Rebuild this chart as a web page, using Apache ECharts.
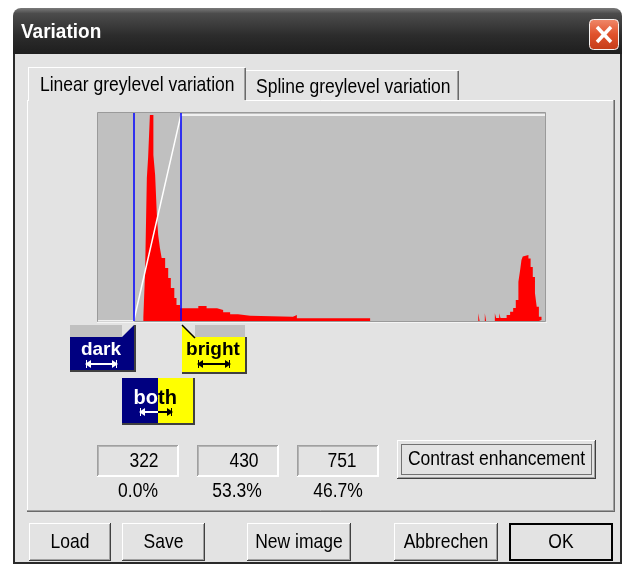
<!DOCTYPE html>
<html>
<head>
<meta charset="utf-8">
<title>Variation</title>
<script src="https://cdn.jsdelivr.net/npm/echarts@6/dist/echarts.min.js"></script>
<style>
  html, body { margin: 0; padding: 0; background: #fff; }
  #main { width: 627px; height: 574px; }
</style>
</head>
<body>
<div id="main"></div>
<script>
// histogram runs: grey level where a run starts, and its count (step plot)
const histGrey = [240, 344, 348, 352, 355, 359, 367, 371, 375, 378, 382, 386, 394, 401, 407, 415, 420, 428,
  470, 489, 513, 527, 543, 561, 589, 687, 696, 864,
  1112, 1115, 1127, 1130, 1150, 1153, 1160, 1163, 1177, 1185, 1192, 1198, 1204, 1208, 1211, 1214, 1218,
  1227, 1232, 1237, 1242, 1246, 1251, 1257, 1260];
const histCount = [0, 21, 237, 688, 790, 990, 798, 702, 510, 413, 351, 303, 255, 207, 159, 111, 77, 61,
  72, 61, 53, 42, 32, 25, 21, 29, 13, 0,
  37, 0, 37, 0, 37, 14, 37, 14, 29, 45, 63, 101, 189, 245, 293, 310, 317,
  300, 260, 212, 133, 69, 21, 5, 0];
// linear transfer curve (white line)
const curveGrey = [240, 322, 430, 1265];
const curveLevel = [0, 0, 990, 990];
const darkLevel = 322;
const brightLevel = 430;
const fieldValues = ["322", "430", "751"];
const fieldPercents = ["0.0%", "53.3%", "46.7%"];
const tabLabels = ["Linear greylevel variation", "Spline greylevel variation"];
const buttonLabels = ["Load", "Save", "New image", "Abbrechen", "OK"];

const FONT = '"Liberation Sans", Arial, sans-serif';
const BG = "#e3e3e3";

function zz(z, d) { return z === undefined ? d : z; }
function txt(x, y, text, o) {
  o = o || {};
  const al = o.align || "center";
  return {
    type: "text", x: x, y: y, z: zz(o.z, 6), scaleY: o.sy || 1.15,
    style: {
      text: text, fill: o.color || "#000",
      font: (o.bold ? "bold " : "") + (o.size || 17.5) + "px " + FONT,
      textAlign: al, align: al, textVerticalAlign: "middle", verticalAlign: "middle"
    }
  };
}
function ln(x1, y1, x2, y2, color, w, z) {
  return { type: "line", z: zz(z, 3), shape: { x1: x1, y1: y1, x2: x2, y2: y2 },
    style: { stroke: color, lineWidth: w || 1 } };
}
function box(x, y, w, h, fill, z) {
  return { type: "rect", z: zz(z, 2), shape: { x: x, y: y, width: w, height: h }, style: { fill: fill } };
}
function poly(points, fill, z) {
  return { type: "polygon", z: zz(z, 4), shape: { points: points }, style: { fill: fill } };
}
// raised windows button
function raised(x, y, w, h) {
  return [
    box(x, y, w, h, BG),
    ln(x, y + 0.5, x + w, y + 0.5, "#ffffff"),
    ln(x + 0.5, y, x + 0.5, y + h, "#ffffff"),
    ln(x, y + h - 0.5, x + w, y + h - 0.5, "#404040"),
    ln(x + w - 0.5, y, x + w - 0.5, y + h, "#404040"),
    ln(x + 1, y + h - 1.5, x + w - 1, y + h - 1.5, "#a0a0a0"),
    ln(x + w - 1.5, y + 1, x + w - 1.5, y + h - 1, "#a0a0a0")
  ];
}
// sunken field
function sunken(x, y, w, h) {
  return [
    box(x, y, w, h, BG),
    ln(x, y + 0.5, x + w, y + 0.5, "#a0a0a0"),
    ln(x + 0.5, y, x + 0.5, y + h, "#a0a0a0"),
    ln(x + 1, y + 1.5, x + w - 1, y + 1.5, "#b4b4b4"),
    ln(x + 1.5, y + 1, x + 1.5, y + h - 1, "#b4b4b4"),
    ln(x, y + h - 0.5, x + w, y + h - 0.5, "#ffffff"),
    ln(x + w - 0.5, y, x + w - 0.5, y + h, "#ffffff"),
    ln(x + 1, y + h - 1.5, x + w - 1, y + h - 1.5, "#ffffff"),
    ln(x + w - 1.5, y + 1, x + w - 1.5, y + h - 1, "#ffffff")
  ];
}
function arrow(x1, x2, y, color, leftHead, rightHead) {
  const out = [ln(x1, y, x2, y, color, 2, 6)];
  if (leftHead) out.push(poly([[x1 - 1, y], [x1 + 5, y - 4], [x1 + 5, y + 4]], color, 6), ln(x1 + 0.5, y - 4, x1 + 0.5, y + 4, color, 1, 6));
  if (rightHead) out.push(poly([[x2 + 1, y], [x2 - 5, y - 4], [x2 - 5, y + 4]], color, 6), ln(x2 - 0.5, y - 4, x2 - 0.5, y + 4, color, 1, 6));
  return out;
}

let els = [];
// window frame and title bar
els.push(box(13, 52, 609, 512, BG, -5));
els.push({
  type: "rect", z: -4, shape: { x: 13, y: 8, width: 609, height: 46, r: [8, 8, 0, 0] },
  style: { fill: new echarts.graphic.LinearGradient(0, 0, 0, 1, [
    { offset: 0, color: "#7a7a7a" }, { offset: 0.12, color: "#4c4c4c" },
    { offset: 0.6, color: "#2c2c2c" }, { offset: 1, color: "#1e1e1e" }]) }
});
els.push(ln(14, 54, 14, 564, "#2a2a2a", 2, 3));
els.push(ln(621, 54, 621, 564, "#2a2a2a", 2, 3));
els.push(ln(13, 563, 622, 563, "#2a2a2a", 2, 3));
els.push(txt(21, 33, "Variation", { color: "#ffffff", bold: true, size: 19, align: "left", sy: 1.05 }));
els.push({
  type: "rect", z: 3, shape: { x: 589.5, y: 19.5, width: 29, height: 30, r: 4 },
  style: { fill: new echarts.graphic.LinearGradient(0, 0, 0, 1, [
    { offset: 0, color: "#f08a6c" }, { offset: 0.5, color: "#e0522c" }, { offset: 1, color: "#c43c18" }]),
    stroke: "#f4f4f4", lineWidth: 1 }
});
els.push(ln(597, 27, 611, 42, "#ffffff", 3.5, 4), ln(611, 27, 597, 42, "#ffffff", 3.5, 4));

// tab panel
els.push(ln(27, 100.5, 614, 100.5, "#ffffff"), ln(27.5, 100, 27.5, 511, "#ffffff"),
  ln(27, 510.5, 614, 510.5, "#a0a0a0"), ln(613.5, 100, 613.5, 511, "#a0a0a0"),
  ln(27, 511.5, 615, 511.5, "#6a6a6a"), ln(614.5, 100, 614.5, 512, "#6a6a6a"));
// inactive tab
els.push(box(246, 70, 213, 30, BG, 2), ln(246, 70.5, 458, 70.5, "#ffffff"),
  ln(458.5, 71, 458.5, 100, "#6a6a6a"), ln(457.5, 71, 457.5, 100, "#a0a0a0"));
// active tab
els.push(box(28, 67, 218, 35, BG, 3), ln(28, 67.5, 245, 67.5, "#ffffff", 1, 4),
  ln(28.5, 67, 28.5, 101, "#ffffff", 1, 4), ln(245.5, 68, 245.5, 100, "#6a6a6a", 1, 4),
  ln(244.5, 68, 244.5, 100, "#a0a0a0", 1, 4));
els.push(txt(40, 85, tabLabels[0], { align: "left" }));
els.push(txt(256, 87, tabLabels[1], { align: "left" }));

// plot frame (drawn under the series)
els.push({ type: "rect", z: 1, shape: { x: 97.5, y: 112.5, width: 448, height: 209 },
  style: { fill: "#c0c0c0", stroke: "#9a9a9a", lineWidth: 1 } });
els.push(ln(97, 322.5, 547, 322.5, "#f4f4f4", 1, 1));

// dark marker
els.push(box(70, 325, 52, 12, "#c0c0c0", 4));
els.push(poly([[70, 337], [122, 337], [134, 325], [134, 370], [70, 370]], "#000080", 4));
els.push(ln(70, 371, 136, 371, "#404040", 2, 5), ln(135, 325, 135, 372, "#404040", 2, 5));
els.push(txt(101, 350, "dark", { color: "#ffffff", bold: true, size: 19, sy: 1 }));
els = els.concat(arrow(86, 117, 364, "#ffffff", true, true));

// bright marker
els.push(box(195, 325, 50, 12, "#c0c0c0", 4));
els.push(poly([[182, 325], [195, 337], [245, 337], [245, 372], [182, 372]], "#ffff00", 4));
els.push(ln(182, 325, 195, 338, "#000000", 1.5, 5));
els.push(ln(182, 373, 247, 373, "#404040", 2, 5), ln(246, 337, 246, 374, "#404040", 2, 5));
els.push(txt(213, 350, "bright", { bold: true, size: 19, sy: 1 }));
els = els.concat(arrow(198, 230, 364, "#000000", true, true));

// both marker
els.push(box(122, 378, 36, 45, "#000080", 4), box(158, 378, 35, 45, "#ffff00", 4));
els.push(ln(122, 424, 195, 424, "#404040", 2, 5), ln(194, 378, 194, 425, "#404040", 2, 5));
els.push(txt(158, 398, "bo", { color: "#ffffff", bold: true, size: 20, sy: 1, align: "right" }));
els.push(txt(158, 398, "th", { bold: true, size: 20, sy: 1, align: "left" }));
els = els.concat(arrow(140, 158, 412, "#ffffff", true, false));
els = els.concat(arrow(158, 172, 412, "#000000", false, true));

// value fields
const fieldX = [97, 197, 297];
const valueX = [144, 244, 342];
const pctX = [138, 237, 338];
fieldX.forEach(function (fx, i) {
  els = els.concat(sunken(fx, 445, 82, 32));
  els.push(txt(valueX[i], 461, fieldValues[i]));
  els.push(txt(pctX[i], 491, fieldPercents[i]));
});

// contrast enhancement button
els = els.concat(raised(397, 440, 199, 39));
els.push({ type: "rect", z: 4, shape: { x: 401.5, y: 444.5, width: 190, height: 30 },
  style: { fill: null, stroke: "#000", lineWidth: 1, lineDash: [1, 1] } });
els.push(txt(496.5, 459.5, "Contrast enhancement"));

// bottom buttons
const btnX = [29, 122, 247, 394, 509];
const btnW = [82, 83, 104, 104, 104];
btnX.forEach(function (bx, i) {
  els = els.concat(raised(bx, 523, btnW[i], 38));
  if (i === 4) {
    els.push({ type: "rect", z: 4, shape: { x: bx + 1, y: 524, width: btnW[i] - 2, height: 36 },
      style: { fill: null, stroke: "#000", lineWidth: 2 } });
  }
  els.push(txt(bx + btnW[i] / 2, 542, buttonLabels[i]));
});

const chart = echarts.init(document.getElementById("main"), null, { renderer: "canvas" });
const option = {
  animation: false,
  backgroundColor: "#ffffff",
  grid: { left: 98, top: 113, width: 447, height: 208, show: false },
  xAxis: { type: "value", min: 240, max: 1265, show: false },
  yAxis: { type: "value", min: 0, max: 1000, show: false },
  series: [
    {
      name: "histogram",
      type: "line",
      step: "end",
      symbol: "none",
      lineStyle: { width: 0, color: "#ff0000" },
      areaStyle: { color: "#ff0000", opacity: 1 },
      data: histGrey.map(function (g, i) { return [g, histCount[i]]; }),
      z: 2
    },
    {
      name: "curve",
      type: "line",
      symbol: "none",
      lineStyle: { width: 1.5, color: "#ffffff" },
      data: curveGrey.map(function (g, i) { return [g, curveLevel[i]]; }),
      z: 3,
      markLine: {
        silent: true,
        symbol: ["none", "none"],
        label: { show: false },
        lineStyle: { color: "#0000ff", width: 1.5, type: "solid" },
        data: [{ xAxis: darkLevel }, { xAxis: brightLevel }]
      }
    }
  ],
  graphic: { elements: els }
};
chart.setOption(option);
window.addEventListener("resize", chart.resize);
</script>
</body>
</html>
